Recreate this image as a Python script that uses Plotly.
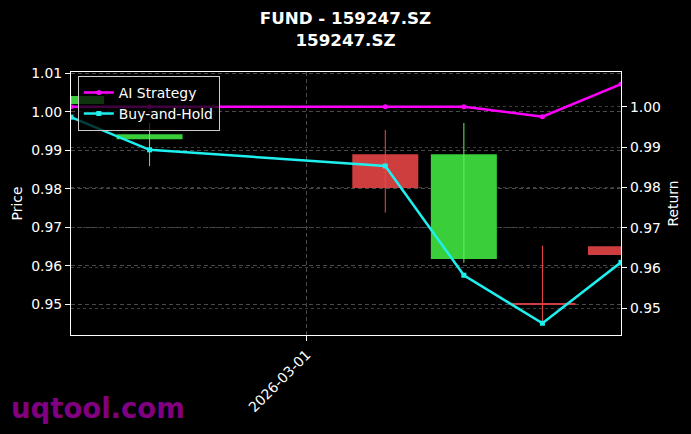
import plotly.graph_objects as go

# ---- data ----
dates = ["2026-02-26", "2026-02-27", "2026-03-02", "2026-03-03", "2026-03-04", "2026-03-05"]
opens = [1.0020, 0.9929, 0.9890, 0.9618, 0.9503, 0.9651]
closes = [1.0041, 0.9942, 0.9802, 0.9890, 0.9500, 0.9628]
highs = [1.0041, 0.9971, 0.9953, 0.9971, 0.9652, 0.9651]
lows = [1.0020, 0.9859, 0.9738, 0.9608, 0.9452, 0.9628]
ai_strategy = [1.0000, 1.0000, 1.0000, 1.0000, 0.9975, 1.0056]
buy_hold = [0.9974, 0.9893, 0.9853, 0.9582, 0.9463, 0.9614]
title_text = "FUND - 159247.SZ<br>159247.SZ"
x_tick_vals = ["2026-03-01"]
x_tick_text = ["2026-03-01"]

GREEN_BODY = "rgb(58,206,58)"
GREEN_WICK = "rgb(90,245,90)"
RED_BODY = "rgb(206,62,62)"
RED_WICK = "rgb(240,72,72)"
DAY_MS = 86400000

up = [c >= o for o, c in zip(opens, closes)]
body_base = [min(o, c) for o, c in zip(opens, closes)]
body_h = [abs(c - o) for o, c in zip(opens, closes)]
body_col = [GREEN_BODY if u else RED_BODY for u in up]

fig = go.Figure()

fig.add_trace(go.Bar(
    x=dates, y=body_h, base=body_base, width=[0.84 * DAY_MS] * len(dates),
    marker=dict(color=body_col, line=dict(width=0)),
    showlegend=False, hoverinfo="skip", yaxis="y",
))

for want, col in [(True, GREEN_WICK), (False, RED_WICK)]:
    wx, wy = [], []
    for d, h, l, u in zip(dates, highs, lows, up):
        if u == want:
            wx += [d, d, None]
            wy += [l, h, None]
    fig.add_trace(go.Scatter(x=wx, y=wy, mode="lines", line=dict(color=col, width=1),
                             showlegend=False, hoverinfo="skip", yaxis="y"))

fig.add_trace(go.Scatter(
    x=dates, y=ai_strategy, mode="lines+markers", name="AI Strategy",
    line=dict(color="#ff00ff", width=2.5), marker=dict(symbol="circle", size=5, color="#ff00ff"),
    yaxis="y2",
))
fig.add_trace(go.Scatter(
    x=dates, y=buy_hold, mode="lines+markers", name="Buy-and-Hold",
    line=dict(color="#1ef0f0", width=2.5), marker=dict(symbol="square", size=5, color="#1ef0f0"),
    yaxis="y2",
))

FONT = "DejaVu Sans"
fig.update_layout(
    width=691, height=434,
    margin=dict(l=71, r=70, t=72, b=99, pad=0),
    paper_bgcolor="black", plot_bgcolor="black",
    font=dict(family=FONT, color="white", size=14),
    title=dict(text="<b>" + title_text + "</b>", x=0.5, xanchor="center",
               y=0.944, yanchor="top", yref="container",
               font=dict(family=FONT, size=16.7, color="white")),
    barmode="overlay",
    showlegend=True,
    legend=dict(x=0.0124, y=0.985, xanchor="left", yanchor="top",
                bgcolor="rgba(0,0,0,0.75)", bordercolor="#cccccc", borderwidth=1,
                font=dict(family=FONT, size=13.9, color="white"),
                tracegroupgap=0, itemwidth=30),
    xaxis=dict(type="date", range=["2026-02-26", "2026-03-05"],
               tickvals=x_tick_vals, ticktext=x_tick_text, tickangle=-45,
               ticks="outside", ticklen=5, tickcolor="white", tickwidth=1,
               showline=True, linecolor="white", linewidth=1.3, mirror=True,
               showgrid=True, gridcolor="#4a4a4a", griddash="4px,3px", gridwidth=0.8,
               zeroline=False, tickfont=dict(size=13.9)),
    yaxis=dict(range=[0.94203, 1.01034], tickvals=[0.95, 0.96, 0.97, 0.98, 0.99, 1.00, 1.01],
               tickformat=".2f", ticks="outside", ticklen=5, tickcolor="white", tickwidth=1,
               showline=True, linecolor="white", linewidth=1.3,
               showgrid=True, gridcolor="#4a4a4a", griddash="4px,3px", gridwidth=0.8,
               zeroline=False, tickfont=dict(size=13.9),
               title=dict(text="Price", font=dict(size=13.9), standoff=5)),
    yaxis2=dict(range=[0.94338, 1.0086], tickvals=[0.95, 0.96, 0.97, 0.98, 0.99, 1.00],
                tickformat=".2f", overlaying="y", side="right",
                ticks="outside", ticklen=5, tickcolor="white", tickwidth=1,
                showline=True, linecolor="white", linewidth=1.3,
                showgrid=True, gridcolor="#3c3c3c", griddash="dot", gridwidth=0.8,
                zeroline=False, tickfont=dict(size=13.9),
                title=dict(text="Return", font=dict(size=13.9), standoff=8)),
    annotations=[dict(text="<b>uqtool.com</b>", xref="paper", yref="paper",
                      x=-0.113, y=-0.278, xanchor="left", yanchor="middle", showarrow=False,
                      font=dict(family=FONT, size=27.5, color="#800080"))],
)

fig.write_html("out.html", config={"displayModeBar": False},
               post_script="document.body.style.margin='0';document.body.style.padding='0';document.body.style.background='black';")
